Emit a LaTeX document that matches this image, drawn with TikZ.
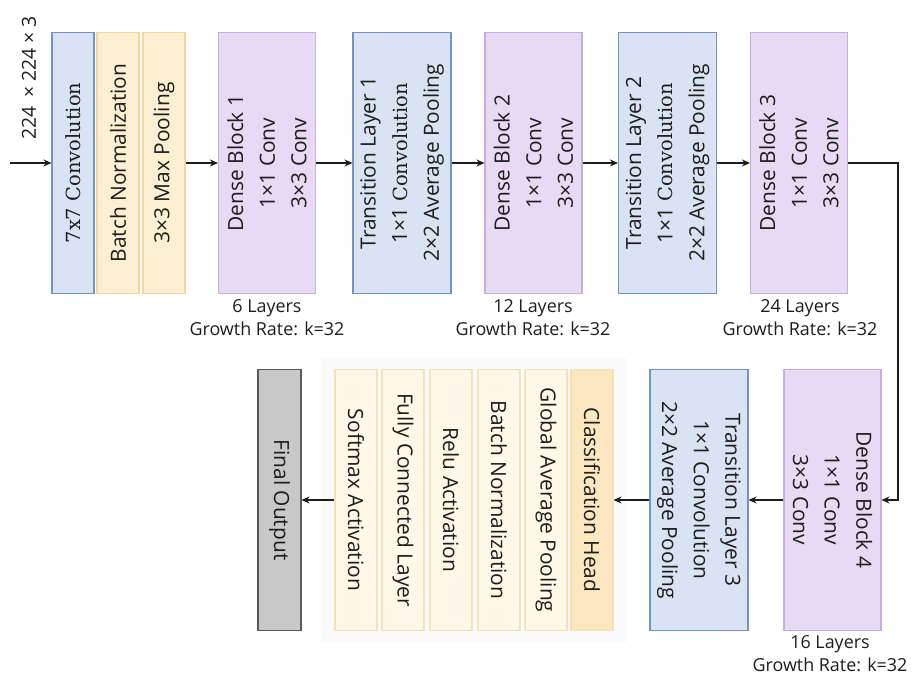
\documentclass[tikz,border=0pt]{standalone}
\usepackage{fontspec}
\setmainfont{Open Sans}
\newfontfamily\cvfont[Scale=0.93]{DejaVu Serif}
\definecolor{netBlue}{HTML}{DAE3F3}
\definecolor{netBlueLine}{HTML}{7394C0}
\definecolor{netOrange}{HTML}{FDEFD2}
\definecolor{netOrangeLine}{HTML}{F3D79E}
\definecolor{netPurple}{HTML}{E7DAF4}
\definecolor{netPurpleLine}{HTML}{C6AEDF}
\definecolor{netCream}{HTML}{FFF8E9}
\definecolor{netCreamLine}{HTML}{F5E1B8}
\definecolor{netGold}{HTML}{FDE7C0}
\definecolor{netGrey}{HTML}{C8C8C8}
\definecolor{netBlack}{HTML}{1D1D1B}
\usetikzlibrary{arrows.meta, positioning, fit, backgrounds}
\tikzset{
    block node/.style={rectangle, line width=0.6pt, minimum width=5.22cm, align=center, inner sep=0pt, text=netBlack, font=\fontsize{11.9}{18}\selectfont},
    conv node/.style={block node, draw=netBlueLine, fill=netBlue, minimum height=0.84cm},
    norm node/.style={block node, draw=netOrangeLine, fill=netOrange, minimum height=0.84cm},
    dense node/.style={block node, draw=netPurpleLine, fill=netPurple, minimum height=1.94cm},
    trans node/.style={block node, draw=netBlueLine, fill=netBlue, minimum height=1.96cm},
    head node/.style={block node, draw=netCreamLine, fill=netCream, minimum height=0.84cm},
    out node/.style={block node, draw=black!65, fill=netGrey, minimum height=0.86cm},
    lbl node/.style={align=center, inner sep=0pt, text=netBlack, font=\fontsize{10.2}{13}\selectfont},
    group node/.style={rectangle, fill=black!2, inner xsep=0.26cm, inner ysep=0.22cm},
    arrow style/.style={-{Stealth[length=1.6mm, width=1.4mm]}, line width=1pt, netBlack},
}

\begin{document}
\begin{tikzpicture}[x=0.02cm, y=-0.02cm]
    \useasboundingbox (0,0) rectangle (914,678);

    \node[conv node, rotate=90] (conv) at (73,163) {\cvfont 7x7 Convolution};
    \node[norm node, rotate=90] (bn) at (118,163) {Batch Normalization};
    \node[norm node, rotate=90] (mp) at (164,163) {3×3 Max Pooling};
    \node[dense node, rotate=90] (db1) at (267,163) {Dense Block 1\\1×1 Conv\\3×3 Conv};
    \node[trans node, rotate=90] (tl1) at (402,163) {Transition Layer 1\\1×1 {\cvfont Convolution}\\2×2 Average Pooling};
    \node[dense node, rotate=90] (db2) at (533.5,163) {Dense Block 2\\1×1 Conv\\3×3 Conv};
    \node[trans node, rotate=90] (tl2) at (667.5,163) {Transition Layer 2\\1×1 {\cvfont Convolution}\\2×2 Average Pooling};
    \node[dense node, rotate=90] (db3) at (799,163) {Dense Block 3\\1×1 Conv\\3×3 Conv};

    \node[dense node, rotate=-90] (db4) at (832.5,500) {Dense Block 4\\1×1 Conv\\3×3 Conv};
    \node[trans node, rotate=-90] (tl3) at (699,500) {Transition Layer 3\\1×1 Convolution\\2×2 Average Pooling};
    \node[head node, rotate=-90, fill=netGold] (ch) at (592,500) {Classification Head};
    \node[head node, rotate=-90] (gap) at (546,500) {Global Average Pooling};
    \node[head node, rotate=-90] (bn2) at (499,500) {Batch Normalization};
    \node[head node, rotate=-90] (relu) at (451,500) {Relu Activation};
    \node[head node, rotate=-90] (fc) at (403,500) {Fully Connected Layer};
    \node[head node, rotate=-90] (sm) at (356,500) {Softmax Activation};
    \node[out node, rotate=-90] (out) at (279.5,500) {Final Output};

    \begin{scope}[on background layer]
        \node[group node, fit=(sm)(ch)] (headgrp) {};
    \end{scope}

    \node[lbl node, rotate=90, font=\fontsize{11}{13}\selectfont] (inlbl) at (29,78) {224 \,× 224 × 3};
    \node[lbl node] (db1lbl) at (267,318) {6 Layers\\Growth Rate: k=32};
    \node[lbl node] (db2lbl) at (533,318) {12 Layers\\Growth Rate: k=32};
    \node[lbl node] (db3lbl) at (800,318) {24 Layers\\Growth Rate: k=32};
    \node[lbl node] (db4lbl) at (830,654) {16 Layers\\Growth Rate: k=32};

    \coordinate (in) at (10,163);
    \coordinate (bend) at (898,163);

    \draw[arrow style] (in) -- (conv);
    \draw[arrow style] (mp) -- (db1);
    \draw[arrow style] (db1) -- (tl1);
    \draw[arrow style] (tl1) -- (db2);
    \draw[arrow style] (db2) -- (tl2);
    \draw[arrow style] (tl2) -- (db3);
    \draw[arrow style] (db3) -- (bend) |- (db4);
    \draw[arrow style] (db4) -- (tl3);
    \draw[arrow style] (tl3) -- (ch);
    \draw[arrow style] (sm) -- (out);
\end{tikzpicture}
\end{document}
